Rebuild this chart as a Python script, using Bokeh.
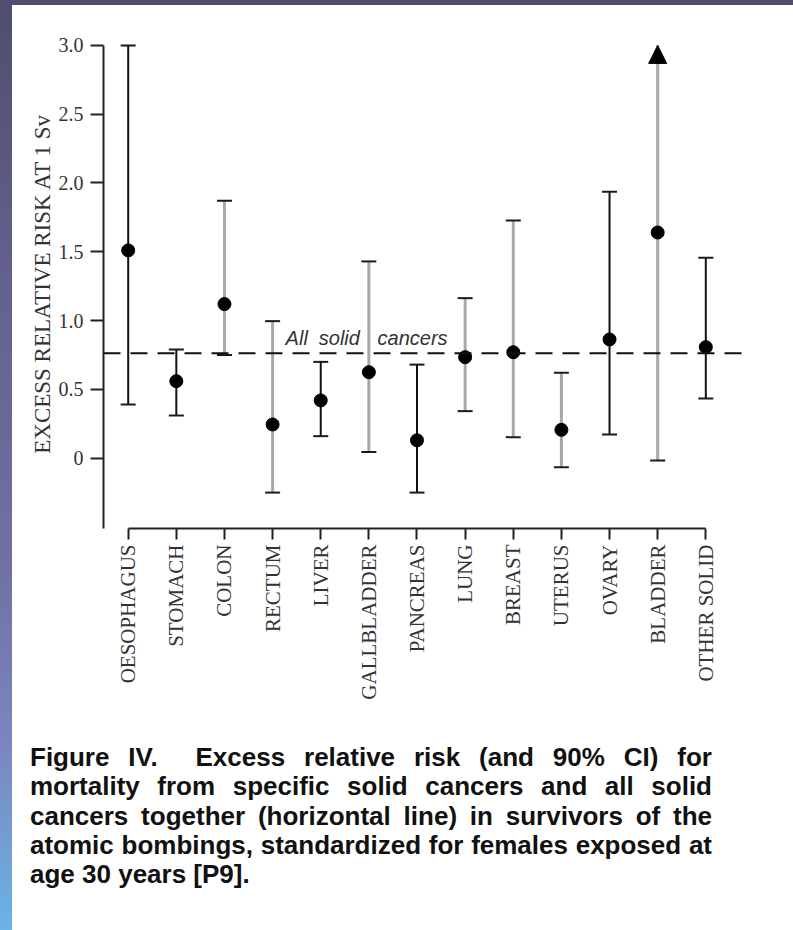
import math
from bokeh.plotting import figure
from bokeh.models import ColumnDataSource, Span, Label, Arrow, NormalHead, FixedTicker, Div
from bokeh.layouts import row, column
from bokeh.embed import file_html
from bokeh.resources import INLINE

# ---- data ----
categories = ["OESOPHAGUS", "STOMACH", "COLON", "RECTUM", "LIVER", "GALLBLADDER",
              "PANCREAS", "LUNG", "BREAST", "UTERUS", "OVARY", "BLADDER", "OTHER SOLID"]
err_estimate = [1.51, 0.56, 1.12, 0.245, 0.42, 0.625, 0.13, 0.734, 0.77, 0.206, 0.863, 1.64, 0.807]
ci_lower = [0.39, 0.31, 0.75, -0.25, 0.16, 0.045, -0.25, 0.342, 0.153, -0.065, 0.172, -0.017, 0.434]
ci_upper = [3.0, 0.79, 1.87, 0.996, 0.70, 1.43, 0.68, 1.163, 1.727, 0.62, 1.937, 3.0, 1.456]
upper_open = [False, False, False, False, False, False, False, False, False, False, False, True, False]
bar_tone = ["black", "black", "grey", "grey", "black", "grey", "black",
            "grey", "grey", "grey", "black", "grey", "black"]
all_solid = 0.763
y_ticks = [0, 0.5, 1.0, 1.5, 2.0, 2.5, 3.0]
y_tick_labels = ["0", "0.5", "1.0", "1.5", "2.0", "2.5", "3.0"]
line_label_words = ["All", "solid", "cancers"]

caption_lines = [
    "Figure IV.&nbsp; Excess relative risk (and 90% CI) for",
    "mortality from specific solid cancers and all solid",
    "cancers together (horizontal line) in survivors of the",
    "atomic bombings, standardized for females exposed at",
    "age 30 years [P9].",
]

# ---- styles ----
tone_color = {"black": "#111111", "grey": "#a8a8a8"}
tone_width = {"black": 2.0, "grey": 3.0}
SERIF = "Liberation Serif"

xs = list(range(len(categories)))
src = ColumnDataSource(dict(
    x=xs, est=err_estimate, lo=ci_lower, hi=ci_upper,
    color=[tone_color[t] for t in bar_tone],
    lw=[tone_width[t] for t in bar_tone],
))
cap_hi_x = [x for x, o in zip(xs, upper_open) if not o]
cap_hi_y = [h for h, o in zip(ci_upper, upper_open) if not o]

p = figure(width=781, height=720, output_backend="svg", toolbar_location=None,
           x_range=(-0.513, 12.887), y_range=(-0.511, 3.05),
           min_border_left=91, min_border_right=45, min_border_top=33, min_border_bottom=197)
p.outline_line_color = None
p.xgrid.visible = False
p.ygrid.visible = False
p.background_fill_color = "white"
p.border_fill_color = "white"

# whiskers
p.segment(x0="x", y0="lo", x1="x", y1="hi", source=src, line_color="color", line_width="lw")
p.scatter(x=xs, y=ci_lower, marker="dash", size=15, line_color="#1a1a1a", line_width=2)
p.scatter(x=cap_hi_x, y=cap_hi_y, marker="dash", size=15, line_color="#1a1a1a", line_width=2)
p.scatter(x="x", y="est", source=src, size=13, fill_color="black", line_color="black")

for x, o, h, e in zip(xs, upper_open, ci_upper, err_estimate):
    if o:
        p.add_layout(Arrow(end=NormalHead(size=18, fill_color="black", line_color="black"),
                           x_start=x, y_start=e, x_end=x, y_end=h, line_alpha=0))

# all solid cancers line
p.add_layout(Span(location=all_solid, dimension="width", line_color="#111111",
                  line_width=2, line_dash="17 10"))
for word, wx in zip(line_label_words, [3.27, 3.96, 5.18]):
    p.add_layout(Label(x=wx, y=0.875, text=word, text_font="Liberation Sans",
                       text_font_style="italic", text_font_size="20px", text_color="#333333",
                       text_baseline="alphabetic"))

# axes
xa = p.xaxis[0]
xa.ticker = FixedTicker(ticks=xs)
xa.major_label_overrides = {x: c for x, c in zip(xs, categories)}
xa.bounds = (0, len(categories) - 1)
xa.major_label_orientation = math.pi / 2
xa.major_label_text_font = SERIF
xa.major_label_text_font_size = "21px"
xa.major_label_text_color = "#333333"
xa.major_label_standoff = 5
xa.major_tick_in = 0
xa.major_tick_out = 11
xa.minor_tick_line_color = None
xa.axis_line_width = 2
xa.axis_line_color = "#222222"
xa.major_tick_line_width = 2
xa.major_tick_line_color = "#222222"

ya = p.yaxis[0]
ya.ticker = FixedTicker(ticks=y_ticks)
ya.major_label_overrides = {t: l for t, l in zip(y_ticks, y_tick_labels)}
ya.bounds = (-0.511, 3.0)
ya.major_label_text_font = SERIF
ya.major_label_text_font_size = "20px"
ya.major_label_text_color = "#333333"
ya.major_label_standoff = 7
ya.major_tick_in = 0
ya.major_tick_out = 13
ya.minor_tick_line_color = None
ya.axis_line_width = 2
ya.axis_line_color = "#222222"
ya.major_tick_line_width = 2
ya.major_tick_line_color = "#222222"
ya.axis_label = "EXCESS RELATIVE RISK AT 1 Sv"
ya.axis_label_text_font = SERIF
ya.axis_label_text_font_size = "23px"
ya.axis_label_text_font_style = "normal"
ya.axis_label_text_color = "#333333"
ya.axis_label_standoff = 1

# decorative frame bands
top_bar = Div(text="", width=793, height=5, margin=0,
              styles={"background-color": "#4e4e6e"})
left_bar = Div(text="", width=12, height=925, margin=0,
               styles={"background": "linear-gradient(to bottom, #4e4e6e 0%, #62628e 30%, #7070a2 60%, #7a86c0 80%, #6ab4e6 100%)"})

# caption
line_divs = []
for i, ln in enumerate(caption_lines):
    last = i == len(caption_lines) - 1
    align = "text-align:left;" if last else "text-align:justify;text-align-last:justify;"
    line_divs.append('<div style="%sheight:29.3px;line-height:29.3px;">%s</div>' % (align, ln))
html = ('<div style="margin-left:18px;padding-top:18px;width:682px;'
        "font-family:'Liberation Sans',Arial,sans-serif;font-size:26px;font-weight:bold;"
        'color:#111111;">' + "".join(line_divs) + "</div>")
cap = Div(text=html, width=781, height=205, margin=0)

layout = column(top_bar, row(left_bar, column(p, cap, spacing=0), spacing=0), spacing=0)
open("out.html", "w").write(file_html(layout, INLINE))
